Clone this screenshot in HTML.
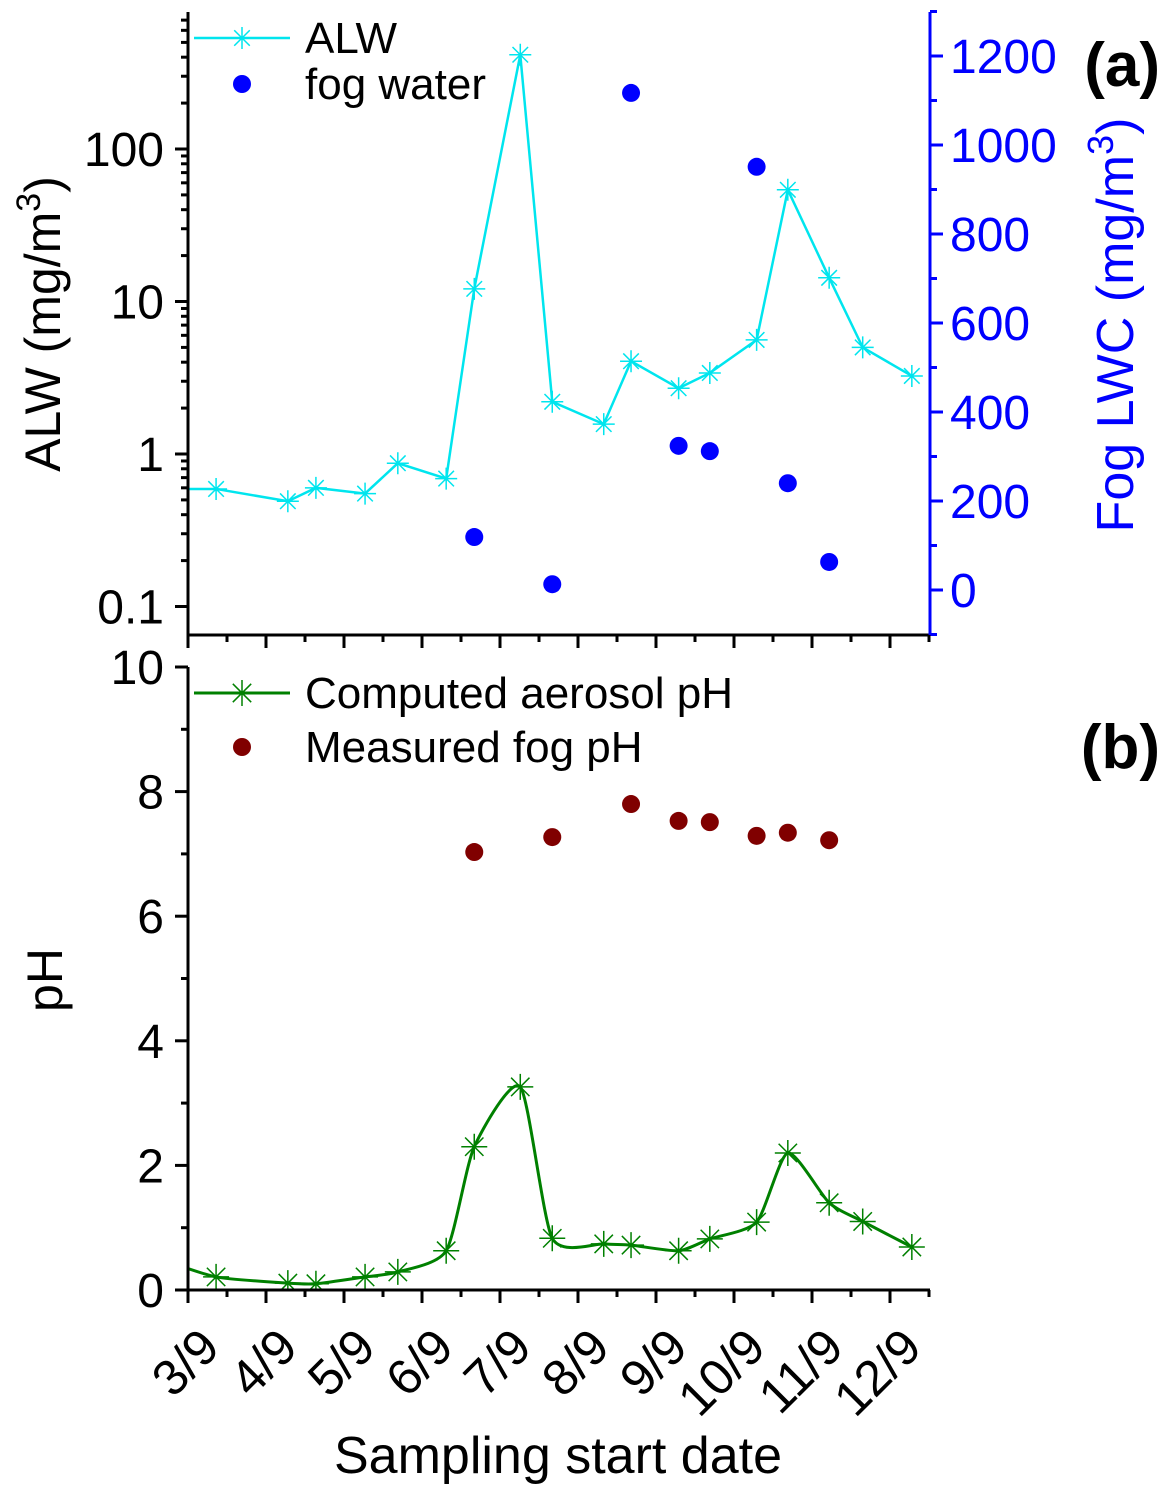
<!DOCTYPE html>
<html><head><meta charset="utf-8"><style>
body{margin:0;background:#fff}
svg{display:block;font-family:"Liberation Sans",sans-serif}
</style></head><body>
<svg id="c" width="1170" height="1495" viewBox="0 0 1170 1495"></svg>
<script>
const alwDays=[2.64,3.36,4.28,4.64,5.27,5.69,6.31,6.67,7.26,7.67,8.33,8.68,9.29,9.69,10.29,10.69,11.22,11.65,12.28];
const alwVals=[0.59,0.59,0.49,0.6,0.55,0.87,0.69,12.1,415,2.2,1.57,4.06,2.7,3.4,5.6,54,14.3,5.0,3.25];
const fogDays=[6.67,7.67,8.68,9.29,9.69,10.29,10.69,11.22];
const fogLWC=[119,13,1117,324,312,951,240,63];
const phDays=[2.64,3.36,4.28,4.64,5.27,5.69,6.31,6.67,7.26,7.67,8.33,8.68,9.29,9.69,10.29,10.69,11.22,11.65,12.28];
const phVals=[0.5,0.21,0.11,0.1,0.21,0.29,0.63,2.3,3.26,0.83,0.74,0.72,0.63,0.82,1.09,2.2,1.4,1.1,0.69];
const fogPH=[7.03,7.27,7.8,7.53,7.51,7.29,7.34,7.22];
const dateLabels=["3/9","4/9","5/9","6/9","7/9","8/9","9/9","10/9","11/9","12/9"];
const leftTicks=[0.1,1,10,100];
const rightTicks=[0,200,400,600,800,1000,1200];
const phTicks=[0,2,4,6,8,10];

const NS="http://www.w3.org/2000/svg",svg=document.getElementById('c');
function el(t,a,txt,p){const e=document.createElementNS(NS,t);for(const k in a)e.setAttribute(k,a[k]);if(txt!=null)e.textContent=txt;(p||svg).appendChild(e);return e;}
const X0=188,X1=930;
const x=d=>188+(d-3)*78;
const yL=v=>454-Math.log10(v)*152.5;
const yR=v=>590-v*0.445;
const yP=v=>1290-v*62.3;
const TOP0=12,TOP1=635,BOT0=667,BOT1=1290;
const FS=48;

const defs=el('defs',{});
const cp1=el('clipPath',{id:'c1'},null,defs);el('rect',{x:X0,y:TOP0,width:X1-X0,height:TOP1-TOP0},null,cp1);
const cp2=el('clipPath',{id:'c2'},null,defs);el('rect',{x:X0,y:BOT0,width:X1-X0,height:BOT1-BOT0},null,cp2);

function star(g,cx,cy,col,r){
  let d='';for(let i=0;i<4;i++){const a=i*Math.PI/4;d+=`M${cx-r*Math.cos(a)},${cy-r*Math.sin(a)}L${cx+r*Math.cos(a)},${cy+r*Math.sin(a)}`;}
  return el('path',{d:d,stroke:col,'stroke-width':1.5,fill:'none'},null,g);
}
function spline(pts){let d=`M${pts[0][0]},${pts[0][1]}`;const k=9;for(let i=0;i<pts.length-1;i++){const p0=pts[Math.max(0,i-1)],p1=pts[i],p2=pts[i+1],p3=pts[Math.min(pts.length-1,i+2)];d+=`C${p1[0]+(p2[0]-p0[0])/k},${p1[1]+(p2[1]-p0[1])/k} ${p2[0]-(p3[0]-p1[0])/k},${p2[1]-(p3[1]-p1[1])/k} ${p2[0]},${p2[1]}`;}return d;}

const gA=el('g',{'clip-path':'url(#c1)'});

el('polyline',{points:alwDays.map((d,i)=>x(d)+','+yL(alwVals[i])).join(' '),fill:'none',stroke:'#00e5ee','stroke-width':2.5},null,gA);
alwDays.forEach((d,i)=>{if(i>0){const s=star(gA,x(d),yL(alwVals[i]),'#00e5ee',11);}});
fogDays.forEach((d,i)=>{const c=el('circle',{cx:x(d),cy:yR(fogLWC[i]),r:9,fill:'#0000ff'},null,gA);});

el('line',{x1:X0,y1:TOP0,x2:X0,y2:TOP1+1.5,stroke:'#000','stroke-width':3});
el('line',{x1:X0-1.5,y1:TOP1,x2:X1,y2:TOP1,stroke:'#000','stroke-width':3});
el('line',{x1:X1,y1:TOP0,x2:X1,y2:TOP1,stroke:'#0000ff','stroke-width':3});
for(let e=-1;e<=2;e++){for(let m=1;m<10;m++){const v=m*Math.pow(10,e),yy=yL(v);if(yy<TOP0||yy>TOP1)continue;el('line',{x1:X0,y1:yy,x2:X0-(m==1?13:7),y2:yy,stroke:'#000','stroke-width':3});}}
leftTicks.forEach(v=>{const t=el('text',{x:164,y:yL(v)+17,'font-size':FS,'text-anchor':'end'},String(v));});
for(let v=-100;v<=1300;v+=100){const yy=yR(v);el('line',{x1:X1,y1:yy,x2:X1+(v%200==0?13:7),y2:yy,stroke:'#0000ff','stroke-width':3});}
rightTicks.forEach(v=>{const t=el('text',{x:950,y:yR(v)+17,'font-size':FS,fill:'#0000ff'},String(v));});
for(let d=3;d<=12.5;d+=0.5){const xx=x(d);if(xx>X1+1)continue;el('line',{x1:xx,y1:TOP1,x2:xx,y2:TOP1+(d%1==0?13:7),stroke:'#000','stroke-width':3});}
let t=el('text',{transform:'translate(60,324) rotate(-90)','font-size':50,'text-anchor':'middle'});t.innerHTML='ALW (mg/m<tspan dy="-20" font-size="34">3</tspan><tspan dy="20">)</tspan>';

t=el('text',{transform:'translate(1133,325) rotate(-90)','font-size':52,'text-anchor':'middle',fill:'#0000ff'});t.innerHTML='Fog LWC (mg/m<tspan dy="-20" font-size="36">3</tspan><tspan dy="20">)</tspan>';

t=el('text',{x:1160,y:86,'font-size':62,'font-weight':'bold','text-anchor':'end'},'(a)');
el('line',{x1:194,y1:38,x2:290,y2:38,stroke:'#00e5ee','stroke-width':2.5});star(svg,242,38,'#00e5ee',11);
t=el('text',{x:305,y:53,'font-size':44},'ALW');
el('circle',{cx:242,cy:84,r:9,fill:'#0000ff'});
t=el('text',{x:305,y:99,'font-size':44},'fog water');

const gB=el('g',{'clip-path':'url(#c2)'});

el('path',{d:spline(phDays.map((d,i)=>[x(d),yP(phVals[i])])),fill:'none',stroke:'#008000','stroke-width':3},null,gB);
phDays.forEach((d,i)=>{if(i>0){const s=star(gB,x(d),yP(phVals[i]),'#008000',13);}});
fogDays.forEach((d,i)=>{const c=el('circle',{cx:x(d),cy:yP(fogPH[i]),r:9,fill:'#800000'},null,gB);});
el('line',{x1:X0,y1:BOT0,x2:X0,y2:BOT1+1.5,stroke:'#000','stroke-width':3});
el('line',{x1:X0-13,y1:BOT1,x2:X1,y2:BOT1,stroke:'#000','stroke-width':3});
for(let v=0;v<=10;v++){const yy=yP(v);el('line',{x1:X0,y1:yy,x2:X0-(v%2==0?13:7),y2:yy,stroke:'#000','stroke-width':3});}
phTicks.forEach(v=>{const t=el('text',{x:164,y:yP(v)+17,'font-size':FS,'text-anchor':'end'},String(v));});
for(let d=3;d<=12.5;d+=0.5){const xx=x(d);if(xx>X1+1)continue;el('line',{x1:xx,y1:BOT1,x2:xx,y2:BOT1+(d%1==0?13:7),stroke:'#000','stroke-width':3});}
dateLabels.forEach((s,i)=>{const xx=x(3+i)+34;const t=el('text',{transform:`translate(${xx},1350) rotate(-45)`,'font-size':50,'text-anchor':'end'},s);});
t=el('text',{transform:'translate(62,980) rotate(-90)','font-size':50,'text-anchor':'middle'},'pH');
t=el('text',{x:558,y:1473,'font-size':52,'text-anchor':'middle'},'Sampling start date');
t=el('text',{x:1160,y:768,'font-size':62,'font-weight':'bold','text-anchor':'end'},'(b)');
el('line',{x1:194,y1:693,x2:290,y2:693,stroke:'#008000','stroke-width':3});star(svg,242,693,'#008000',13);
t=el('text',{x:305,y:708,'font-size':44},'Computed aerosol pH');
el('circle',{cx:242,cy:747,r:9,fill:'#800000'});
t=el('text',{x:305,y:762,'font-size':44},'Measured fog pH');
</script>
</body></html>
